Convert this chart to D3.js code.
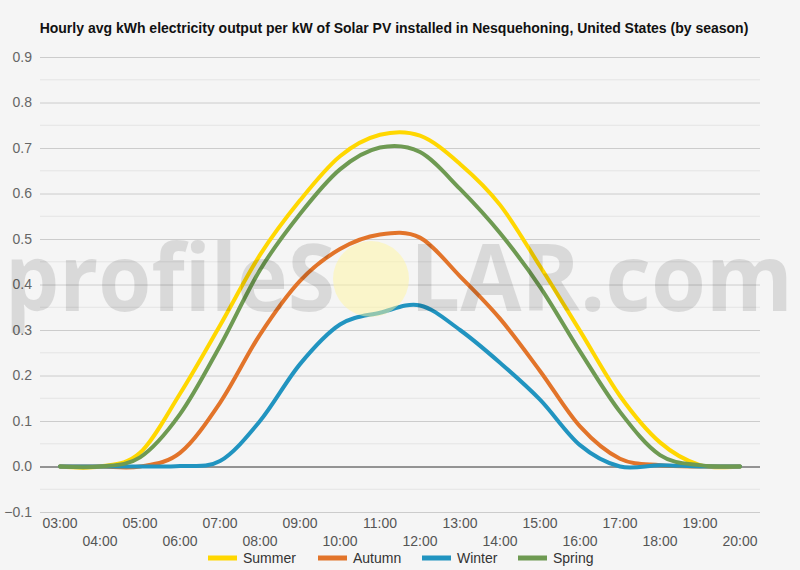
<!DOCTYPE html>
<html>
<head>
<meta charset="utf-8">
<script src="https://cdn.jsdelivr.net/npm/d3@7"></script>
<style>
  body { margin: 0; background: #f5f5f5; }
  svg { display: block; font-family: "Liberation Sans", Arial, sans-serif; }
</style>
</head>
<body>
<div id="chart"></div>
<script>
// hours on the x axis
var hours = ["03:00","04:00","05:00","06:00","07:00","08:00","09:00","10:00","11:00",
             "12:00","13:00","14:00","15:00","16:00","17:00","18:00","19:00","20:00"];

// kWh per kW
var summer = [0, 0, 0.03, 0.16, 0.31, 0.465, 0.585, 0.682, 0.729, 0.727, 0.665, 0.575, 0.44, 0.298, 0.155, 0.053, 0.003, 0];
var autumn = [0, 0, 0, 0.03, 0.14, 0.29, 0.408, 0.478, 0.51, 0.503, 0.418, 0.325, 0.21, 0.088, 0.017, 0.003, 0, 0];
var winter = [0, 0, 0, 0.001, 0.012, 0.1, 0.225, 0.312, 0.338, 0.354, 0.3, 0.228, 0.147, 0.047, 0, 0.003, 0, 0];
var spring = [0, 0, 0.02, 0.115, 0.265, 0.432, 0.555, 0.653, 0.701, 0.691, 0.61, 0.513, 0.395, 0.253, 0.12, 0.025, 0.003, 0];

var seriesNames = ["Summer", "Autumn", "Winter", "Spring"];
var seriesValues = [summer, autumn, winter, spring];
var colors = ["#ffd700", "#e2742a", "#2194c0", "#6e9a52"];

var yTicks = [-0.1, 0, 0.1, 0.2, 0.3, 0.4, 0.5, 0.6, 0.7, 0.8, 0.9];

var width = 800, height = 570;
var margin = {top: 57, right: 40, bottom: 58, left: 40};

var svg = d3.select("#chart").append("svg")
    .attr("width", width)
    .attr("height", height);

svg.append("rect").attr("width", width).attr("height", height).attr("fill", "#f5f5f5");

var xScale = d3.scaleBand()
    .domain(hours)
    .range([margin.left, width - margin.right]);

var yScale = d3.scaleLinear()
    .domain([-0.1, 0.9])
    .range([height - margin.bottom, margin.top]);

// title
svg.append("text")
    .attr("x", 394)
    .attr("y", 33)
    .attr("text-anchor", "middle")
    .style("font-weight", "bold")
    .style("font-size", "14px")
    .style("fill", "#111")
    .text("Hourly avg kWh electricity output per kW of Solar PV installed in Nesquehoning, United States (by season)");

// minor gridlines
var minor = d3.range(-0.05, 0.9, 0.1);
svg.append("g").selectAll("line")
    .data(minor)
    .enter()
    .append("line")
        .attr("x1", margin.left)
        .attr("x2", width - margin.right)
        .attr("y1", function(d){ return yScale(d); })
        .attr("y2", function(d){ return yScale(d); })
        .attr("stroke", "#e4e4e4")
        .attr("stroke-width", 1);

// major gridlines + y labels
svg.append("g")
    .attr("transform", "translate(" + margin.left + ",0)")
    .call(d3.axisLeft(yScale).tickValues(yTicks).tickSize(-(width - margin.left - margin.right)).tickFormat(d3.format(".1f")))
    .call(function(g){
        g.select(".domain").remove();
        g.selectAll(".tick line").attr("stroke", function(d){ return d === 0 ? "#333" : "#cccccc"; });
        g.selectAll(".tick text")
            .attr("x", -8)
            .style("font-size", "14px")
            .style("font-family", "Liberation Sans, Arial, sans-serif")
            .style("fill", "#666");
    });

// x axis labels, staggered in two rows
svg.append("g")
    .attr("transform", "translate(0," + yScale(-0.1) + ")")
    .call(d3.axisBottom(xScale).tickSize(0))
    .call(function(g){
        g.select(".domain").remove();
        g.selectAll(".tick text")
            .attr("y", function(d, i){ return i % 2 === 0 ? 6 : 24; })
            .attr("dy", "0.71em")
            .style("font-size", "14px")
            .style("font-family", "Liberation Sans, Arial, sans-serif")
            .style("fill", "#555");
    });

// lines
var line = d3.line()
    .x(function(d, i){ return xScale(hours[i]) + xScale.bandwidth() / 2; })
    .y(function(d){ return yScale(d); })
    .curve(d3.curveCardinal.tension(0));

svg.selectAll(".series")
    .data(seriesValues)
    .enter()
    .append("path")
        .attr("class", "series")
        .attr("d", function(d){ return line(d); })
        .attr("stroke", function(d, i){ return colors[i]; })
        .style("stroke-width", 4)
        .style("stroke-linecap", "round")
        .style("stroke-linejoin", "round")
        .style("fill", "none");

// watermark on top
var wm = svg.append("g");
wm.append("circle")
    .attr("cx", 371)
    .attr("cy", 279)
    .attr("r", 38)
    .attr("fill", "#fff5a0")
    .attr("opacity", 0.5);
wm.selectAll("text")
    .data([{t: "profileS", x: 5, w: 330}, {t: "LAR.com", x: 410, w: 383}])
    .enter()
    .append("text")
        .attr("x", function(d){ return d.x; })
        .attr("y", 311)
        .attr("textLength", function(d){ return d.w; })
        .attr("lengthAdjust", "spacingAndGlyphs")
        .style("font-size", "94px")
        .style("font-weight", "bold")
        .style("font-family", "Open Sans, Liberation Sans, sans-serif")
        .style("fill", "#000")
        .style("opacity", 0.11)
        .text(function(d){ return d.t; });

// legend
var legendX = [208, 318, 422, 518];
var legend = svg.selectAll(".legend")
    .data(seriesNames)
    .enter()
    .append("g")
        .attr("class", "legend")
        .attr("transform", function(d, i){ return "translate(" + legendX[i] + ",558)"; });
legend.append("rect")
    .attr("x", 0)
    .attr("y", -2.5)
    .attr("width", 29)
    .attr("height", 5)
    .attr("fill", function(d, i){ return colors[i]; });
legend.append("text")
    .attr("x", 35)
    .attr("y", 5)
    .style("font-size", "14px")
    .style("fill", "#333")
    .text(function(d){ return d; });
</script>
</body>
</html>
